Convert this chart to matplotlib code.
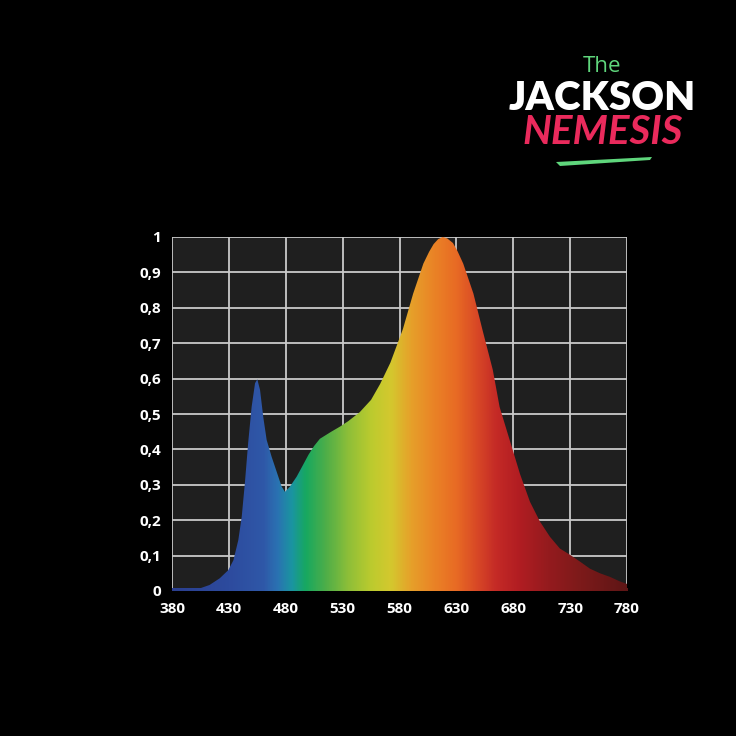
import numpy as np
import matplotlib
matplotlib.use("Agg")
import matplotlib.pyplot as plt
from matplotlib.colors import LinearSegmentedColormap
from matplotlib.patches import Polygon

# ---- data ----
wavelengths = [380, 390, 398, 405, 413, 422, 429.5, 434, 438.3, 441.3, 444.2, 447, 450,
               453, 455, 457.4, 460.3, 463.2, 467.6, 472, 476.4, 479.3, 483.7, 489.6,
               495, 500, 505, 510, 515, 520, 528, 535, 545, 555, 563, 572, 583, 592,
               601, 606, 610, 614, 618, 622, 627, 631, 636, 645, 653, 662, 668, 677, 686,
               694.7, 703.5, 712.3, 721, 730, 738.7, 747.5, 756.3, 765, 773.8, 780]
intensity = [0.003, 0.003, 0.005, 0.008, 0.017, 0.036, 0.059, 0.087, 0.144, 0.21, 0.31,
             0.42, 0.52, 0.587, 0.598, 0.568, 0.49, 0.427, 0.379, 0.337, 0.295, 0.28,
             0.295, 0.323, 0.355, 0.385, 0.41, 0.43, 0.44, 0.45, 0.465, 0.48, 0.505,
             0.54, 0.585, 0.645, 0.74, 0.84, 0.925, 0.958, 0.98, 0.994, 1.0, 0.996,
             0.983, 0.96, 0.925, 0.84, 0.737, 0.625, 0.52, 0.425, 0.33, 0.252, 0.196,
             0.153, 0.12, 0.102, 0.083, 0.063, 0.05, 0.04, 0.027, 0.02]
x_ticks = [380, 430, 480, 530, 580, 630, 680, 730, 780]
y_ticks = [0, 0.1, 0.2, 0.3, 0.4, 0.5, 0.6, 0.7, 0.8, 0.9, 1.0]
y_labels = ["0", "0,1", "0,2", "0,3", "0,4", "0,5", "0,6", "0,7", "0,8", "0,9", "1"]

# spectrum colour stops (wavelength, colour)
color_stops = [(380, "#2b3f8f"), (430, "#2d4b9e"), (460, "#2f58a8"), (472, "#2a72b2"),
               (485, "#1a95a0"), (497, "#17a860"), (515, "#4fae48"), (535, "#8fbf38"),
               (555, "#bccb2e"), (572, "#d4c82e"), (590, "#e6a02a"), (610, "#ea8326"),
               (630, "#e86a24"), (648, "#d84826"), (665, "#c42a26"), (685, "#b11d22"),
               (710, "#951b1e"), (740, "#7c1a1a"), (780, "#5e1616")]

plt.rcParams['font.family'] = ['Open Sans', 'DejaVu Sans']

fig = plt.figure(figsize=(7.36, 7.36), dpi=100, facecolor="black")
ax = fig.add_axes([172/736, 1-591/736, 455/736, 354/736])
ax.set_facecolor("#1f1f1f")
ax.set_xlim(380, 780)
ax.set_ylim(0, 1)

# grid
for xv in x_ticks:
    ax.axvline(xv, color="#c9c9c9", lw=1.3, zorder=1)
for yv in y_ticks:
    ax.axhline(yv, color="#c9c9c9", lw=1.3, zorder=1)

# gradient fill clipped to the curve
lo, hi = color_stops[0][0], color_stops[-1][0]
cmap = LinearSegmentedColormap.from_list(
    "spec", [((w - lo) / (hi - lo), c) for w, c in color_stops])
grad = np.linspace(0, 1, 800).reshape(1, -1)
im = ax.imshow(grad, cmap=cmap, extent=[380, 780, 0, 1], aspect="auto",
               origin="lower", zorder=2, interpolation="bilinear")
verts = list(zip(wavelengths, intensity)) + [(780, 0), (380, 0)]
poly = Polygon(verts, closed=True, facecolor="none", edgecolor="none",
               transform=ax.transData)
ax.add_patch(poly)
im.set_clip_path(poly)

# bottom spectrum line
ax.imshow(grad, cmap=cmap, extent=[380, 780, 0, 0.006], aspect="auto",
          origin="lower", zorder=3)
ax.set_xlim(380, 780)
ax.set_ylim(0, 1)

for s in ax.spines.values():
    s.set_visible(False)
ax.set_xticks(x_ticks)
ax.set_xticklabels([str(v) for v in x_ticks])
ax.set_yticks(y_ticks)
ax.set_yticklabels(y_labels)
ax.tick_params(length=0, colors="white", labelsize=11, pad=8)
for lab in ax.get_xticklabels() + ax.get_yticklabels():
    lab.set_fontweight("bold")
    lab.set_color("white")

# logo
fig.text(602/736, 1-67/736, "The", color="#5fd67c", fontsize=16, ha="center",
         va="center", family=["Open Sans", "DejaVu Sans"])
fig.text(602/736, 1-98/736, "JACKSON", color="white", fontsize=29, ha="center",
         va="center", fontweight="heavy", family=["Lato", "DejaVu Sans"])
fig.text(603/736, 1-132/736, "NEMESIS", color="#ea2a5c", fontsize=29, ha="center",
         va="center", fontweight="bold", style="italic", family=["Lato", "DejaVu Sans"])
fig.add_artist(Polygon([(556/736, 1-162/736), (652/736, 1-157/736),
                        (650/736, 1-160/736), (560/736, 1-166/736)],
                       closed=True, facecolor="#5fd67c", edgecolor="none",
                       transform=fig.transFigure))

fig.savefig("out.png", dpi=100, facecolor="black")
